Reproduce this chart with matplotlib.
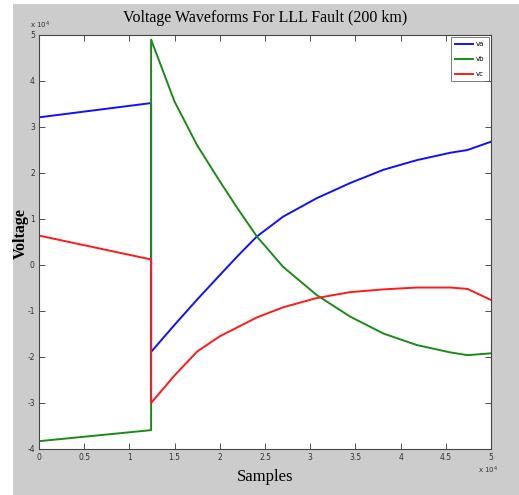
import matplotlib.pyplot as plt
from matplotlib.patches import Rectangle

plt.rcParams['axes.unicode_minus'] = False

# samples and voltages in units of 10^4
x_pre = [0.0, 1.24]
va_pre = [3.21, 3.52]
vb_pre = [-3.83, -3.59]
vc_pre = [0.64, 0.12]

x_post = [1.24, 1.5, 1.75, 2.0, 2.2, 2.41, 2.7, 3.07, 3.44, 3.81, 4.18, 4.55, 4.74, 5.0]
va_post = [-1.89, -1.30, -0.75, -0.22, 0.20, 0.62, 1.05, 1.45, 1.78, 2.07, 2.28, 2.44, 2.50, 2.68]
vb_post = [4.90, 3.55, 2.60, 1.82, 1.22, 0.62, -0.04, -0.65, -1.12, -1.49, -1.74, -1.90, -1.96, -1.92]
vc_post = [-3.00, -2.40, -1.88, -1.55, -1.35, -1.14, -0.92, -0.72, -0.59, -0.53, -0.49, -0.49, -0.52, -0.76]

x_ticks = [0, 0.5, 1, 1.5, 2, 2.5, 3, 3.5, 4, 4.5, 5]
x_ticklabels = ['0', '0.5', '1', '1.5', '2', '2.5', '3', '3.5', '4', '4.5', '5']
y_ticks = [-4, -3, -2, -1, 0, 1, 2, 3, 4, 5]

W, H = 519, 495
fig = plt.figure(figsize=(W / 100, H / 100), dpi=100)
fig.patch.set_facecolor('white')
fig.patches.append(Rectangle((13 / W, 0), 1 - 13 / W, 1 - 4 / H, transform=fig.transFigure,
                             facecolor='#cccccc', edgecolor='none', zorder=-1))

ax = fig.add_axes([39 / W, 1 - 449 / H, (491 - 39) / W, (449 - 35) / H])
ax.set_zorder(1)
ax.set_facecolor('white')

series = [(va_pre, va_post, '#1010ff', 'va'),
          (vb_pre, vb_post, '#1a8a1a', 'vb'),
          (vc_pre, vc_post, '#ff1a1a', 'vc')]
for pre, post, col, lab in series:
    ax.plot(x_pre + x_post, pre + post, color=col, lw=1.4, label=lab)

ax.set_xlim(0, 5)
ax.set_ylim(-4, 5)
ax.set_xticks(x_ticks)
ax.set_xticklabels(x_ticklabels)
ax.set_yticks(y_ticks)
ax.tick_params(direction='in', length=4, width=0.6, top=True, right=True,
               labelsize=5.5, colors='#333333', pad=3)
for s in ax.spines.values():
    s.set_color('#444444')
    s.set_linewidth(0.8)

ax.set_title('Voltage Waveforms For LLL Fault (200 km)', family='Liberation Serif',
             fontsize=11.5, pad=9)
ax.set_xlabel('Samples', family='Liberation Serif', fontsize=12, labelpad=5)
ax.set_ylabel('Voltage', family='Liberation Serif', fontsize=11.5, fontweight='bold')
ax.yaxis.set_label_coords(-(39 - 29) / (491 - 39), 0.52)

fig.text(30 / W, 1 - 20 / H, r'x 10$^4$', fontsize=5, color='#333333', va='top')
fig.text(478 / W, 1 - 465 / H, r'x 10$^4$', fontsize=5, color='#333333', va='top')

leg = ax.legend(loc='upper right', fontsize=5, frameon=True, fancybox=False,
                handlelength=2.6, handletextpad=0.4, borderpad=0.6, labelspacing=1.3,
                borderaxespad=0.3)
leg.get_frame().set_edgecolor('#444444')
leg.get_frame().set_linewidth(0.6)

fig.savefig('out.png', dpi=100)
